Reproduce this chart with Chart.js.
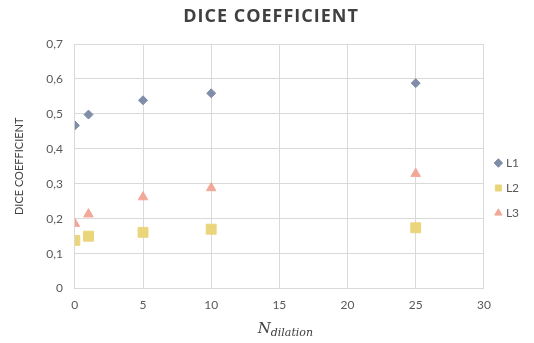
<!DOCTYPE html>
<html><head><meta charset="utf-8">
<script src="https://cdn.jsdelivr.net/npm/chart.js@4/dist/chart.umd.min.js"></script>
<style>html,body{margin:0;padding:0;background:#fff}#wrap{width:534px;height:343px}</style>
</head><body><div id="wrap"><canvas id="c" width="534" height="343"></canvas></div>
<script>
const xValues = [0, 1, 5, 10, 25];
const L1 = [0.467, 0.498, 0.539, 0.559, 0.588];
const L2 = [0.138, 0.150, 0.161, 0.170, 0.174];
const L3 = [0.186, 0.213, 0.262, 0.288, 0.329];
const seriesNames = ['L1', 'L2', 'L3'];
const yTicks = [0, 0.1, 0.2, 0.3, 0.4, 0.5, 0.6, 0.7];
const xTicks = [0, 5, 10, 15, 20, 25, 30];
const chartTitle = 'DICE COEFFICIENT';

const pts = arr => xValues.map((x, i) => ({x: x, y: arr[i]}));

const extraText = {
  id: 'extraText',
  afterDraw(chart) {
    const ctx = chart.ctx;
    const ca = chart.chartArea;
    const cx = (ca.left + ca.right) / 2 + 6;
    ctx.save();
    // chart title with letter spacing
    ctx.fillStyle = '#404040';
    ctx.font = 'bold 18px "Open Sans", sans-serif';
    try { ctx.letterSpacing = '1px'; } catch (e) {}
    ctx.textAlign = 'center';
    ctx.textBaseline = 'middle';
    ctx.fillText(chartTitle, 271, 17);
    try { ctx.letterSpacing = '0px'; } catch (e) {}
    // x-axis title N_dilation
    ctx.textBaseline = 'alphabetic';
    ctx.textAlign = 'left';
    ctx.font = 'italic 15px "DejaVu Serif", "Liberation Serif", serif';
    const nW = ctx.measureText('N').width;
    ctx.font = 'italic 11px "DejaVu Serif", "Liberation Serif", serif';
    const sW = ctx.measureText('dilation').width;
    const start = cx - (nW + sW) / 2;
    ctx.font = 'italic 15px "DejaVu Serif", "Liberation Serif", serif';
    ctx.fillText('N', start, 333);
    ctx.font = 'italic 11px "DejaVu Serif", "Liberation Serif", serif';
    ctx.fillText('dilation', start + nW, 336);
    ctx.restore();
  }
};

new Chart(document.getElementById('c'), {
  type: 'scatter',
  data: {
    datasets: [
      {label: seriesNames[0], data: pts(L1), pointStyle: 'rectRot', pointRadius: 4.5, pointHoverRadius: 4.5, backgroundColor: '#7f8da8', borderColor: '#7f8da8', borderWidth: 1},
      {label: seriesNames[1], data: pts(L2), pointStyle: 'rect', pointRadius: 7, pointHoverRadius: 7, backgroundColor: '#ebd57b', borderColor: '#ebd57b', borderWidth: 1},
      {label: seriesNames[2], data: pts(L3), pointStyle: 'triangle', pointRadius: 5.5, pointHoverRadius: 5.5, backgroundColor: '#f2a898', borderColor: '#f2a898', borderWidth: 1}
    ]
  },
  options: {
    responsive: false,
    animation: false,
    devicePixelRatio: 1,
    layout: {padding: {left: 13, right: 5, top: 6, bottom: 22}},
    plugins: {
      title: {
        display: true,
        text: chartTitle,
        color: 'rgba(0,0,0,0)',
        font: {family: '"Open Sans", sans-serif', size: 18, weight: 'bold'},
        padding: {top: 0, bottom: 16.4}
      },
      legend: {
        position: 'right',
        title: {display: true, text: '', padding: {top: 34.6, bottom: 0}, font: {size: 12}},
        labels: {
          usePointStyle: true,
          boxWidth: 3,
          boxHeight: 6,
          padding: 13,
          color: '#595959',
          font: {family: 'Lato, sans-serif', size: 12}
        }
      },
      tooltip: {enabled: false}
    },
    scales: {
      x: {
        type: 'linear',
        min: 0, max: 30,
        afterBuildTicks: s => { s.ticks = xTicks.map(v => ({value: v})); },
        grid: {color: '#d9d9d9', drawTicks: false},
        border: {color: '#d9d9d9'},
        ticks: {color: '#595959', padding: 9, font: {family: 'Lato, sans-serif', size: 12}}
      },
      y: {
        min: 0, max: 0.7,
        afterBuildTicks: s => { s.ticks = yTicks.map(v => ({value: v})); },
        grid: {color: '#d9d9d9', drawTicks: false},
        border: {color: '#d9d9d9'},
        title: {display: true, text: 'DICE COEFFICIENT', color: '#404040', font: {family: 'Lato, sans-serif', size: 11}, padding: {top: 0, bottom: 8}},
        ticks: {color: '#595959', padding: 12, font: {family: 'Lato, sans-serif', size: 12},
          callback: v => (v === 0 ? '0' : v.toFixed(1).replace('.', ','))}
      }
    }
  },
  plugins: [extraText]
});
</script></body></html>
